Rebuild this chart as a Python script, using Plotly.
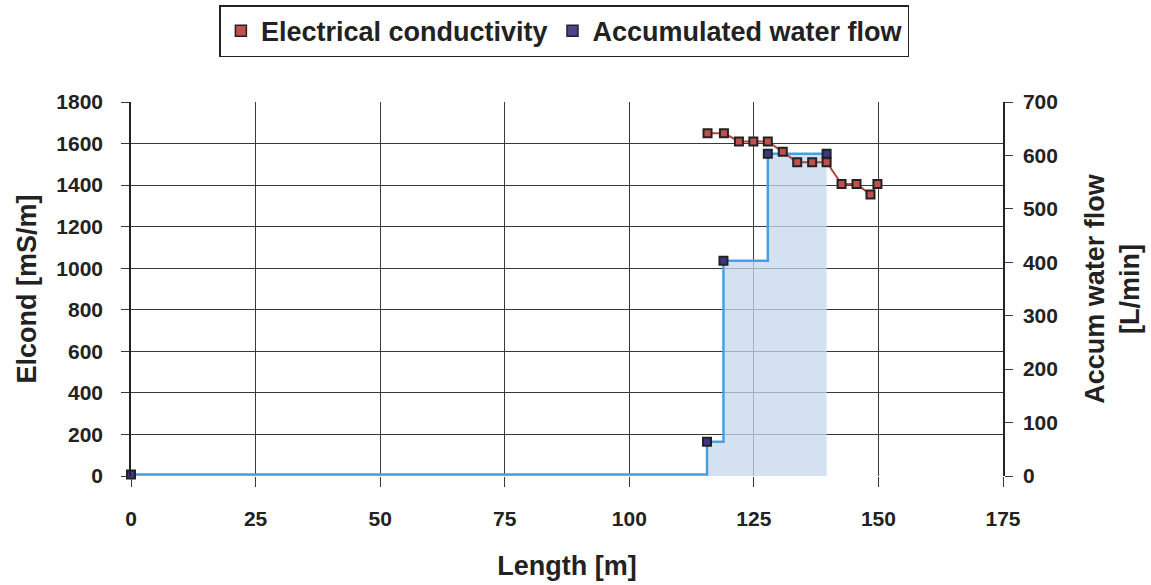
import plotly.graph_objects as go

# Data
ec_length = [115.7, 119.0, 122.0, 124.9, 127.8, 130.8, 133.7, 136.7, 139.6, 142.6, 145.6, 148.4, 149.8]
ec_values = [1650, 1650, 1610, 1610, 1610, 1560, 1510, 1510, 1510, 1405, 1405, 1355, 1405]

flow_length = [0, 115.6, 118.9, 127.8, 139.6]
flow_values = [3, 64, 403, 603, 603]

x_ticks = [0, 25, 50, 75, 100, 125, 150, 175]
left_ticks = [0, 200, 400, 600, 800, 1000, 1200, 1400, 1600, 1800]
right_ticks = [0, 100, 200, 300, 400, 500, 600, 700]

FONT = "Liberation Sans, Arial, sans-serif"
TXT = "#222222"
GRID = "#3a3a3a"

fig = go.Figure()

# Accumulated water flow (step, filled) on the right axis (base axis "y")
fig.add_trace(go.Scatter(
    x=flow_length, y=flow_values, yaxis="y",
    mode="lines+markers", line=dict(shape="hv", color="#4a9fe0", width=2.5),
    fill="tozeroy", fillcolor="rgba(197,215,235,0.75)",
    marker=dict(symbol="square", size=8, color="#3d3785", line=dict(color="#222222", width=2)),
    cliponaxis=False, showlegend=False, hoverinfo="skip"))

# Electrical conductivity on the left axis (overlay "y2", drawn on top)
fig.add_trace(go.Scatter(
    x=ec_length, y=ec_values, yaxis="y2",
    mode="lines+markers", line=dict(color="#b4463b", width=2),
    marker=dict(symbol="square", size=8, color="#c0504d", line=dict(color="#222222", width=2)),
    cliponaxis=False, showlegend=False, hoverinfo="skip"))

# Legend entries
fig.add_trace(go.Scatter(
    x=[None], y=[None], yaxis="y2", mode="markers", name="Electrical conductivity",
    marker=dict(symbol="square", size=11, color="#c0504d", line=dict(color="#222222", width=1.5))))
fig.add_trace(go.Scatter(
    x=[None], y=[None], yaxis="y2", mode="markers", name="Accumulated water flow",
    marker=dict(symbol="square", size=11, color="#4a4390", line=dict(color="#222222", width=1.5))))

tickfont = dict(size=21, family=FONT, color=TXT, weight="bold")
titlefont = dict(size=27, family=FONT, color=TXT, weight="bold")

fig.update_layout(
    width=1151, height=585,
    margin=dict(l=131, r=148, t=102, b=109, autoexpand=False),
    paper_bgcolor="white", plot_bgcolor="white",
    font=dict(family=FONT, color=TXT, size=21, weight="bold"),
    legend=dict(
        orientation="h", x=0.497, xanchor="center", y=1.259, yanchor="top",
        bordercolor="#222222", borderwidth=1.5, bgcolor="white",
        font=dict(size=27, family=FONT, color=TXT, weight="bold"),
        itemwidth=30, tracegroupgap=0, traceorder="normal"),
    xaxis=dict(
        range=[0, 175], tickvals=x_ticks, ticktext=[str(v) for v in x_ticks],
        showgrid=True, gridcolor=GRID, gridwidth=1,
        showline=False, zeroline=False, automargin=False,
        ticks="outside", ticklen=10, tickcolor=GRID, tickwidth=1,
        ticklabelstandoff=14, tickfont=tickfont,
        title=dict(text="Length [m]", standoff=26, font=titlefont)),
    yaxis=dict(
        range=[0, 700], tickvals=right_ticks, side="right",
        showgrid=False, showline=True, linecolor="#222222", linewidth=1.5, zeroline=False,
        automargin=False,
        ticks="outside", ticklen=8, tickcolor=GRID, tickwidth=1,
        ticklabelstandoff=6, tickfont=tickfont,
        title=dict(text="Accum water flow<br>[L/min]", standoff=28, font=titlefont)),
    yaxis2=dict(
        range=[0, 1800], tickvals=left_ticks, side="left", overlaying="y",
        showgrid=True, gridcolor=GRID, gridwidth=1,
        showline=True, linecolor="#222222", linewidth=1.5, zeroline=False,
        automargin=False,
        ticks="outside", ticklen=8, tickcolor=GRID, tickwidth=1,
        ticklabelstandoff=14, tickfont=tickfont,
        title=dict(text="Elcond [mS/m]", standoff=12, font=titlefont)),
)

fig.write_html("out.html", config={"displayModeBar": False},
               post_script="document.body.style.margin='0';document.body.style.overflow='hidden';")
